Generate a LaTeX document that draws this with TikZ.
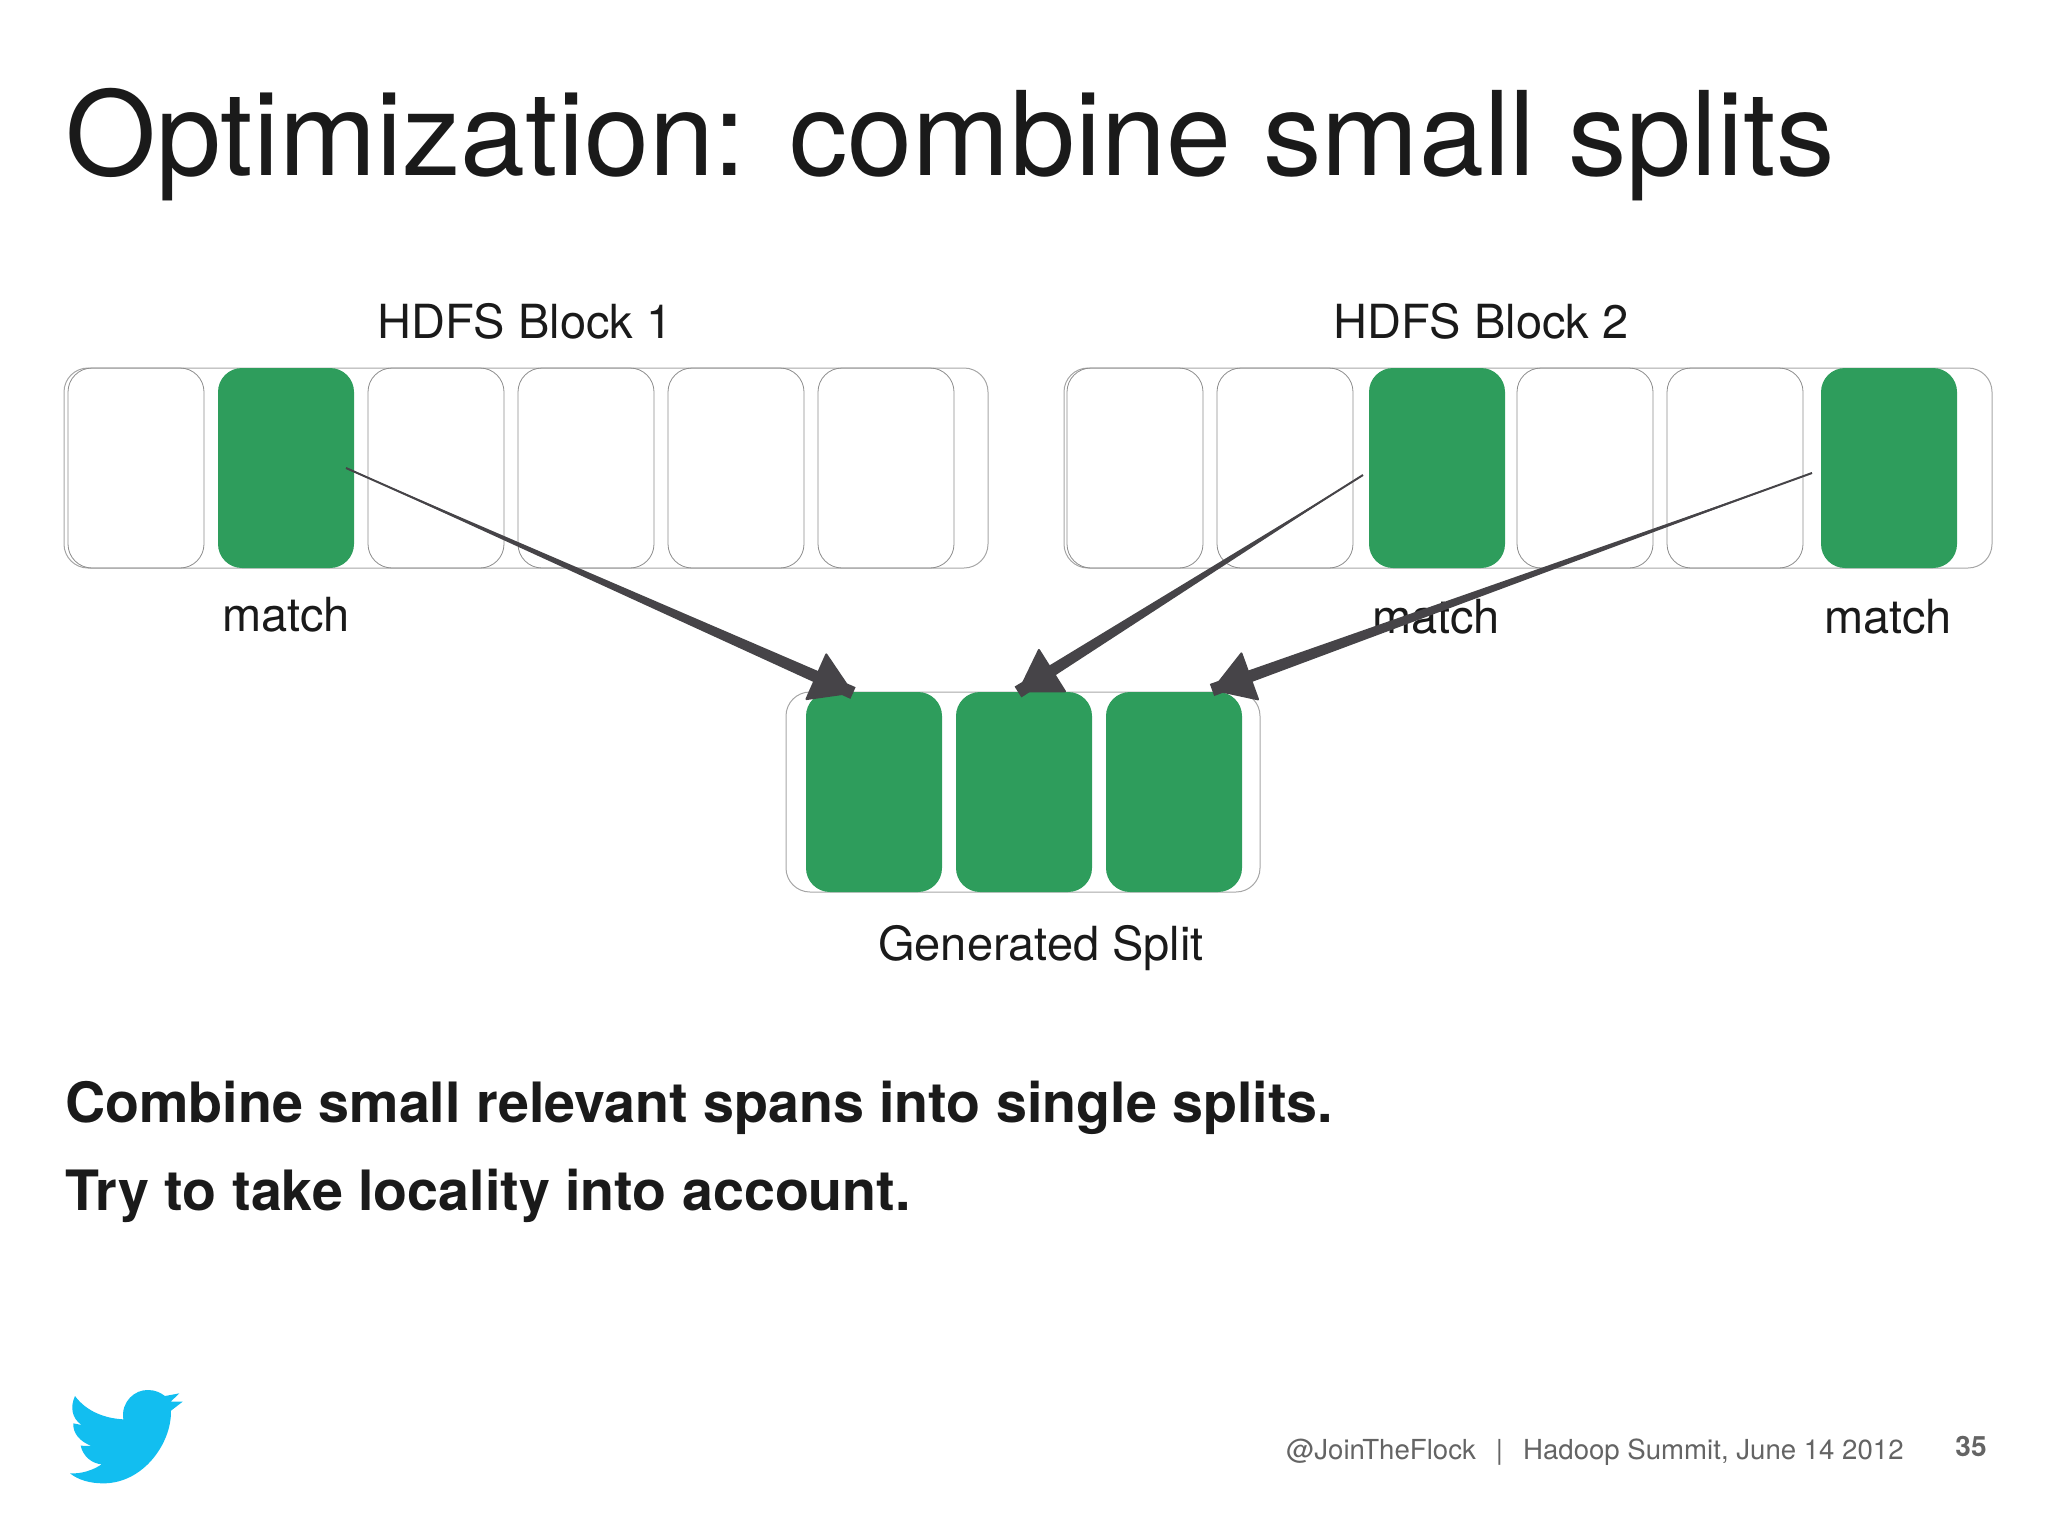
\documentclass[tikz,border=0pt]{standalone}
\usepackage{fontspec}
\setmainfont{TeX Gyre Heros}
\usetikzlibrary{arrows.meta,calc}
\definecolor{match-green}{RGB}{46,157,92}
\definecolor{flow-grey}{RGB}{70,68,72}
\definecolor{bird-blue}{RGB}{18,190,240}
\definecolor{ink}{RGB}{26,26,26}
\definecolor{foot-grey}{RGB}{100,100,100}
\tikzstyle{cell}=[draw=black!45, line width=.4pt, rounded corners=12pt, minimum width=68pt, minimum height=100pt, inner sep=0pt]
\tikzstyle{hit}=[fill=match-green, draw=none, rounded corners=12pt, minimum width=68pt, minimum height=100pt, inner sep=0pt]
\tikzstyle{holder}=[draw=black!35, line width=.5pt, rounded corners=12pt, minimum height=100pt, inner sep=0pt]
\tikzstyle{caption}=[font=\fontsize{23.5pt}{28pt}\selectfont, text=ink, anchor=base, inner sep=0pt]
\tikzstyle{lead}=[font=\bfseries\fontsize{27.8pt}{33pt}\selectfont, text=ink, anchor=base west, inner sep=0pt]
\tikzstyle{flow}=[draw=flow-grey, line width=1pt, line join=round, -{Triangle[length=21pt,width=26pt,round]}]
\newcommand{\taper}[2]{\fill[flow-grey] (#1) -- ($(#2)!3.2pt!90:(#1)$) -- ($(#2)!3.2pt!-90:(#1)$) -- cycle;}

\begin{document}
\begin{tikzpicture}[x=.5pt, y=-.5pt]
	\useasboundingbox (0,0) rectangle (2048,1536);
	\node[font=\fontsize{58.4pt}{70pt}\selectfont, text=ink, anchor=base west, inner sep=0pt] (title) at (65,175) {Optimization: combine small splits};

	\node[caption] (name1) at (525,338) {HDFS Block 1};
	\node[caption] (name2) at (1481,338) {HDFS Block 2};
	\node[holder, minimum width=462pt] (block1) at (526,468) {};
	\node[holder, minimum width=464pt] (block2) at (1528,468) {};
	\node[holder, minimum width=237pt] (split) at (1023,792) {};

	\foreach \n/\x in {1/136,3/436,4/586,5/736,6/886}
		\node[cell] (a\n) at (\x,468) {};
	\node[hit] (a2) at (286,468) {};
	\foreach \n/\x in {1/1135,2/1285,4/1585,5/1735}
		\node[cell] (b\n) at (\x,468) {};
	\node[hit] (b3) at (1437,468) {};
	\node[hit] (b6) at (1889,468) {};
	\foreach \n/\x in {1/874,2/1024,3/1174}
		\node[hit] (c\n) at (\x,792) {};

	\node[caption] (match1) at (286,631) {match};
	\node[caption] (match2) at (1436,633) {match};
	\node[caption] (match3) at (1888,633) {match};
	\node[caption] (result) at (1041,960) {Generated Split};

	\coordinate (tail1) at (346,468);
	\coordinate (tail2) at (1363,475);
	\coordinate (tail3) at (1812,473);
	\coordinate (head1) at (853,693);
	\coordinate (head2) at (1018,692);
	\coordinate (head3) at (1212,690);
	\foreach \n in {1,2,3} {
		\taper{tail\n}{head\n}
		\draw[flow] (tail\n) -- (head\n);
	}

	\node[lead] (line1) at (65,1122) {Combine small relevant spans into single splits.};
	\node[lead] (line2) at (65,1210) {Try to take locality into account.};

	\begin{scope}[shift={(40,1370)}, scale=1/3]
		\fill[bird-blue] (105,78) .. controls (140,125) and (195,145) .. (250,148)
			.. controls (242,95) and (285,58) .. (325,60)
			.. controls (345,60) and (362,68) .. (375,78)
			-- (418,70) -- (392,95) -- (428,95) -- (393,122)
			.. controls (395,220) and (310,340) .. (190,340)
			.. controls (150,340) and (115,330) .. (90,310)
			.. controls (125,312) and (160,300) .. (185,283)
			.. controls (155,280) and (130,260) .. (122,227)
			-- (155,228)
			.. controls (120,215) and (98,190) .. (100,160)
			-- (125,165)
			.. controls (95,145) and (90,110) .. (105,78) -- cycle;
	\end{scope}

	\node[font=\fontsize{13.8pt}{17pt}\selectfont, text=foot-grey, anchor=base east, inner sep=0pt] (foot) at (1904,1459) {@JoinTheFlock\hspace{10pt}|\hspace{10pt}Hadoop Summit, June 14 2012};
	\node[font=\bfseries\fontsize{14pt}{17pt}\selectfont, text=foot-grey, anchor=base east, inner sep=0pt] (page) at (1987,1456) {35};
\end{tikzpicture}
\end{document}
